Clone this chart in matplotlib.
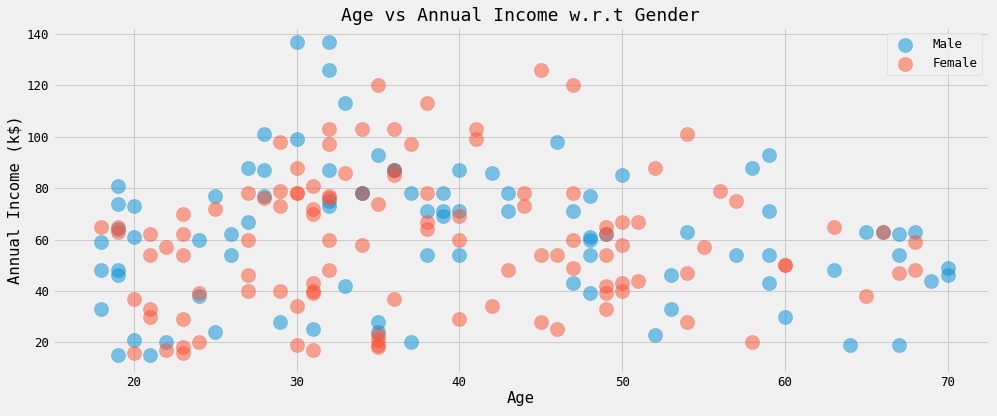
import numpy as np
import matplotlib
matplotlib.use('Agg')
import matplotlib.pyplot as plt

# Mall customers: gender, age, annual income (k$)
gender = ['Male', 'Male', 'Female', 'Female', 'Female', 'Female', 'Female', 'Female', 'Male', 'Female',
          'Male', 'Female', 'Female', 'Female', 'Male', 'Male', 'Female', 'Male', 'Male', 'Female',
          'Male', 'Male', 'Female', 'Male', 'Female', 'Male', 'Female', 'Male', 'Female', 'Female',
          'Male', 'Female', 'Male', 'Male', 'Female', 'Female', 'Female', 'Female', 'Female', 'Female',
          'Female', 'Male', 'Male', 'Female', 'Female', 'Female', 'Female', 'Female', 'Female', 'Female',
          'Female', 'Male', 'Female', 'Male', 'Female', 'Male', 'Female', 'Male', 'Female', 'Male',
          'Male', 'Male', 'Female', 'Female', 'Male', 'Male', 'Female', 'Female', 'Male', 'Female',
          'Male', 'Female', 'Female', 'Female', 'Male', 'Male', 'Female', 'Male', 'Female', 'Female',
          'Male', 'Male', 'Male', 'Female', 'Female', 'Male', 'Female', 'Female', 'Female', 'Female',
          'Female', 'Male', 'Male', 'Female', 'Female', 'Male', 'Female', 'Female', 'Male', 'Male',
          'Female', 'Female', 'Male', 'Male', 'Male', 'Female', 'Female', 'Male', 'Male', 'Male',
          'Male', 'Female', 'Female', 'Male', 'Female', 'Female', 'Female', 'Female', 'Female', 'Female',
          'Male', 'Female', 'Female', 'Male', 'Female', 'Female', 'Male', 'Male', 'Male', 'Male',
          'Male', 'Male', 'Female', 'Female', 'Male', 'Female', 'Female', 'Male', 'Male', 'Female',
          'Female', 'Male', 'Female', 'Female', 'Male', 'Male', 'Male', 'Female', 'Female', 'Male',
          'Male', 'Male', 'Female', 'Female', 'Female', 'Female', 'Male', 'Female', 'Male', 'Female',
          'Female', 'Female', 'Male', 'Female', 'Male', 'Female', 'Male', 'Female', 'Female', 'Male',
          'Male', 'Male', 'Male', 'Male', 'Female', 'Female', 'Male', 'Male', 'Male', 'Male',
          'Female', 'Female', 'Male', 'Female', 'Female', 'Male', 'Female', 'Male', 'Female', 'Female',
          'Female', 'Female', 'Male', 'Female', 'Female', 'Female', 'Female', 'Male', 'Male', 'Male']

age = [19, 21, 20, 23, 31, 22, 35, 23, 64, 30, 67, 35, 58, 24, 37, 22, 35, 20, 52, 35,
       35, 25, 46, 31, 54, 29, 45, 35, 40, 23, 60, 21, 53, 18, 49, 21, 42, 30, 36, 20,
       65, 24, 48, 31, 49, 24, 50, 27, 29, 31, 49, 33, 31, 59, 50, 47, 51, 69, 27, 53,
       70, 19, 67, 54, 63, 18, 43, 68, 19, 32, 70, 47, 60, 60, 59, 26, 45, 40, 23, 49,
       57, 38, 67, 46, 21, 48, 55, 22, 34, 50, 68, 18, 48, 40, 32, 24, 47, 27, 48, 20,
       23, 49, 67, 26, 49, 21, 66, 54, 68, 66, 65, 19, 38, 19, 18, 19, 63, 49, 51, 50,
       27, 38, 40, 39, 23, 31, 43, 40, 59, 38, 47, 39, 25, 31, 20, 29, 44, 32, 19, 35,
       57, 32, 28, 32, 25, 28, 48, 32, 34, 34, 43, 39, 44, 38, 47, 27, 37, 30, 34, 30,
       56, 29, 19, 31, 50, 36, 42, 33, 36, 32, 40, 28, 36, 36, 52, 30, 58, 27, 59, 35,
       37, 32, 46, 29, 41, 30, 54, 28, 41, 36, 34, 32, 33, 38, 47, 35, 45, 32, 32, 30]

income = [15, 15, 16, 16, 17, 17, 18, 18, 19, 19, 19, 19, 20, 20, 20, 20, 21, 21, 23, 23,
          24, 24, 25, 25, 28, 28, 28, 28, 29, 29, 30, 30, 33, 33, 33, 33, 34, 34, 37, 37,
          38, 38, 39, 39, 39, 39, 40, 40, 40, 40, 42, 42, 43, 43, 43, 43, 44, 44, 46, 46,
          46, 46, 47, 47, 48, 48, 48, 48, 48, 48, 49, 49, 50, 50, 54, 54, 54, 54, 54, 54,
          54, 54, 54, 54, 54, 54, 57, 57, 58, 58, 59, 59, 60, 60, 60, 60, 60, 60, 61, 61,
          62, 62, 62, 62, 62, 62, 63, 63, 63, 63, 63, 63, 64, 64, 65, 65, 65, 65, 67, 67,
          67, 67, 69, 69, 70, 70, 71, 71, 71, 71, 71, 71, 72, 72, 73, 73, 73, 73, 74, 74,
          75, 75, 76, 76, 77, 77, 77, 77, 78, 78, 78, 78, 78, 78, 78, 78, 78, 78, 78, 78,
          79, 79, 81, 81, 85, 85, 86, 86, 87, 87, 87, 87, 87, 87, 88, 88, 88, 88, 93, 93,
          97, 97, 98, 98, 99, 99, 101, 101, 103, 103, 103, 103, 113, 113, 120, 120, 126, 126, 137, 137]

plt.style.use('fivethirtyeight')
plt.rcParams['font.family'] = ['DejaVu Sans Mono']

gender = np.array(gender)
age = np.array(age)
income = np.array(income)

fig = plt.figure(figsize=(997 / 72, 416 / 72), dpi=72)
ax = fig.add_axes([0.0529, 0.1034, 0.9388, 0.8325])
for g in ['Male', 'Female']:
    mask = gender == g
    ax.scatter(age[mask], income[mask], s=200, alpha=0.5, label=g)
ax.set_xlim(15.02, 72.52)
ax.set_ylim(8.05, 142.84)
ax.tick_params(labelsize=12.5)
ax.set_xlabel('Age', fontsize=15.5, labelpad=2)
ax.set_ylabel('Annual Income (k$)', fontsize=15.5)
ax.set_title('Age vs Annual Income w.r.t Gender', fontsize=18)
ax.legend(fontsize=12.5, handletextpad=1.2)
fig.savefig('out.png', dpi=72, facecolor=fig.get_facecolor())
